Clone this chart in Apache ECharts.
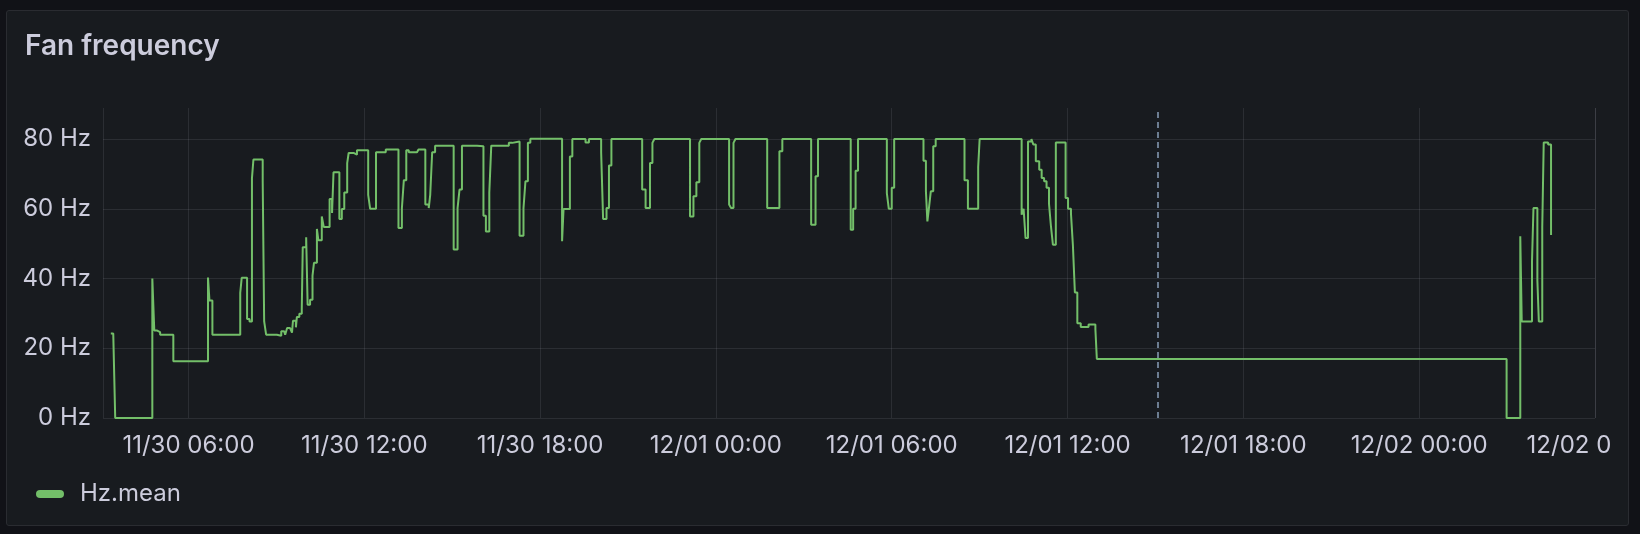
<!DOCTYPE html>
<html><head><meta charset="utf-8">
<script src="https://cdn.jsdelivr.net/npm/echarts@6/dist/echarts.min.js"></script>
<style>
html,body{margin:0;padding:0;background:#111217;width:1640px;height:534px;overflow:hidden;}
#panel{position:absolute;left:6px;top:10px;width:1623px;height:516px;box-sizing:border-box;background:#181b1f;border:1px solid #2a2c31;border-radius:3px;}
#chart{position:absolute;left:0;top:0;width:1611px;height:534px;}
</style></head><body>
<div id="panel"></div><div id="chart"></div>
<script>
const chartTitle = 'Fan frequency';
const seriesName = 'Hz.mean';
const yTicks = [0, 20, 40, 60, 80];
const xRange = ['2023-11-30 03:05', '2023-12-02 06:00'];
const annotationTime = '2023-12-01 15:05';

const times = [
 '2023-11-30 03:21','2023-11-30 03:26','2023-11-30 03:30','2023-11-30 04:46','2023-11-30 04:50','2023-11-30 04:55',
 '2023-11-30 05:02','2023-11-30 05:29','2023-11-30 06:40','2023-11-30 06:43','2023-11-30 06:49','2023-11-30 07:46',
 '2023-11-30 07:49','2023-11-30 08:00','2023-11-30 08:05','2023-11-30 08:10','2023-11-30 08:13','2023-11-30 08:32',
 '2023-11-30 08:35','2023-11-30 08:39','2023-11-30 09:01','2023-11-30 09:10','2023-11-30 09:16','2023-11-30 09:18',
 '2023-11-30 09:22','2023-11-30 09:28','2023-11-30 09:32','2023-11-30 09:34','2023-11-30 09:40','2023-11-30 09:42',
 '2023-11-30 09:47','2023-11-30 09:52','2023-11-30 09:54','2023-11-30 10:01','2023-11-30 10:04','2023-11-30 10:09',
 '2023-11-30 10:14','2023-11-30 10:17','2023-11-30 10:23','2023-11-30 10:26','2023-11-30 10:33','2023-11-30 10:37',
 '2023-11-30 10:49','2023-11-30 10:54','2023-11-30 10:57','2023-11-30 11:09','2023-11-30 11:14','2023-11-30 11:19',
 '2023-11-30 11:25','2023-11-30 11:28','2023-11-30 11:38','2023-11-30 11:45','2023-11-30 12:08','2023-11-30 12:12',
 '2023-11-30 12:24','2023-11-30 12:44','2023-11-30 13:10','2023-11-30 13:17','2023-11-30 13:21','2023-11-30 13:26',
 '2023-11-30 13:31','2023-11-30 13:48','2023-11-30 13:51','2023-11-30 14:05','2023-11-30 14:12','2023-11-30 14:15',
 '2023-11-30 14:19','2023-11-30 14:25','2023-11-30 15:03','2023-11-30 15:11','2023-11-30 15:15','2023-11-30 15:20',
 '2023-11-30 15:51','2023-11-30 16:04','2023-11-30 16:09','2023-11-30 16:16','2023-11-30 16:20','2023-11-30 16:56',
 '2023-11-30 17:03','2023-11-30 17:18','2023-11-30 17:26','2023-11-30 17:30','2023-11-30 17:35','2023-11-30 17:40',
 '2023-11-30 18:45','2023-11-30 18:48','2023-11-30 19:01','2023-11-30 19:06','2023-11-30 19:33','2023-11-30 19:40',
 '2023-11-30 20:05','2023-11-30 20:09','2023-11-30 20:16','2023-11-30 20:21','2023-11-30 20:26','2023-11-30 21:29',
 '2023-11-30 21:36','2023-11-30 21:45','2023-11-30 21:50','2023-11-30 21:54','2023-11-30 23:07','2023-11-30 23:14',
 '2023-11-30 23:20','2023-11-30 23:26','2023-11-30 23:30',
 '2023-12-01 00:27','2023-12-01 00:31','2023-12-01 00:36','2023-12-01 00:40','2023-12-01 01:45','2023-12-01 02:10',
 '2023-12-01 02:16','2023-12-01 03:15','2023-12-01 03:24','2023-12-01 03:29','2023-12-01 04:36','2023-12-01 04:41',
 '2023-12-01 04:46','2023-12-01 04:51','2023-12-01 05:50','2023-12-01 05:54','2023-12-01 06:00','2023-12-01 06:05',
 '2023-12-01 07:05','2023-12-01 07:10','2023-12-01 07:13','2023-12-01 07:16','2023-12-01 07:20','2023-12-01 07:25',
 '2023-12-01 07:30','2023-12-01 08:29','2023-12-01 08:36','2023-12-01 08:57','2023-12-01 09:00','2023-12-01 10:26',
 '2023-12-01 10:30','2023-12-01 10:34','2023-12-01 10:39','2023-12-01 10:46','2023-12-01 10:50','2023-12-01 10:55',
 '2023-12-01 11:02','2023-12-01 11:07','2023-12-01 11:12','2023-12-01 11:17','2023-12-01 11:22','2023-12-01 11:26',
 '2023-12-01 11:30','2023-12-01 11:36','2023-12-01 11:56','2023-12-01 12:01','2023-12-01 12:07','2023-12-01 12:11',
 '2023-12-01 12:15','2023-12-01 12:20','2023-12-01 12:27','2023-12-01 12:43','2023-12-01 12:57','2023-12-01 13:00',
 '2023-12-02 02:59','2023-12-02 03:27','2023-12-02 03:30','2023-12-02 03:51','2023-12-02 03:54','2023-12-02 04:02',
 '2023-12-02 04:05','2023-12-02 04:12','2023-12-02 04:15','2023-12-02 04:24','2023-12-02 04:30'
];

const hz = [
 24.2,23.8,0,40,25.1,24.6,
 23.9,16.3,40.3,33.7,23.9,35.9,
 40.2,28.4,27.7,68.8,74.1,67.9,
 27.7,23.9,23.6,24.9,25.1,23.9,
 25.8,26.3,24.5,27.9,26.0,29.0,
 29.9,31.1,49,51.8,32.5,33.9,
 40.8,44.5,54.2,51,57.8,54.8,
 62.8,58.8,70.5,57.1,59.9,64.7,
 73.1,76,75.5,76.8,64,60,
 76.2,77,54.5,60.2,68.2,76.8,
 76.2,75.8,77,61.2,60.2,64,
 76.2,78.1,48.3,60.2,65.5,78.1,
 77.9,58,53.5,64.7,78.1,78.9,
 79.3,52.3,60.2,67.9,78.9,80.1,
 50.7,59.9,75,80,79,80,
 76.2,57.1,60.2,72.4,80,65.5,
 60.2,73.1,78.9,80,57.8,63.6,
 67.6,78.9,80,
 61.2,60.2,78.9,80,60.2,76.5,
 80,55.4,69.3,80,54,60,
 70.9,80,64.5,60,66,80,
 73.8,65,56.4,60,65,77.9,
 80,68.2,60,72,80,58.3,
 60,51.6,79.3,80,78.4,73.6,
 71.2,68.8,67.9,66,61.5,55,
 49.7,79,63.1,60,58.6,49.4,
 36,27.2,26.1,26.8,25.5,16.9,
 0,52.1,27.7,44.9,60.2,39.5,
 27.7,54.8,79,78.4,52.5
];

const toMs = s => echarts.time.parse(s).getTime();
const seriesData = times.map((t, i) => [toMs(t), hz[i]]);
const pad = n => String(n).padStart(2, '0');

const textColor = '#ccccdc';
const gridColor = 'rgba(204,204,220,0.11)';
const font = 'Inter, "Noto Sans", sans-serif';
const HOUR = 3600 * 1000;

const chart = echarts.init(document.getElementById('chart'), null, {renderer: 'canvas'});
chart.setOption({
  backgroundColor: 'transparent',
  animation: false,
  title: {
    text: chartTitle, left: 20, top: 28,
    textStyle: {color: textColor, fontSize: 28, fontWeight: 600, fontFamily: font}
  },
  legend: {
    data: [seriesName], left: 31, top: 477,
    icon: 'path://M4,0H24A4,4,0,0,1,24,8H4A4,4,0,0,1,4,0Z',
    itemWidth: 28, itemHeight: 8,
    textStyle: {color: textColor, fontSize: 24, fontFamily: font, padding: [0, 0, 0, 11]}
  },
  grid: {left: 103, right: 16, top: 108, bottom: 116, containLabel: false, outerBoundsMode: 'none'},
  xAxis: {
    type: 'time',
    min: toMs(xRange[0]), max: toMs(xRange[1]),
    minInterval: 7 * HOUR, maxInterval: 7 * HOUR,
    axisLine: {show: false}, axisTick: {show: false},
    splitLine: {show: true, lineStyle: {color: gridColor, width: 1}},
    axisLabel: {
      color: textColor, fontSize: 24, fontFamily: font, margin: 16,
      hideOverlap: false, showMinLabel: true, showMaxLabel: true,
      formatter: v => {
        const d = new Date(v);
        if (d.getMinutes() !== 0 || d.getHours() % 6 !== 0) return '';
        return pad(d.getMonth() + 1) + '/' + pad(d.getDate()) + ' ' + pad(d.getHours()) + ':00';
      }
    }
  },
  yAxis: {
    type: 'value', min: 0, max: 88.9, interval: 20,
    axisLine: {show: false}, axisTick: {show: false},
    splitLine: {lineStyle: {color: [gridColor, gridColor, gridColor, gridColor, gridColor, 'rgba(0,0,0,0)'], width: 1}},
    axisLabel: {
      color: textColor, fontSize: 24, fontFamily: font, margin: 12,
      formatter: v => yTicks.includes(v) ? v + ' Hz' : ''
    }
  },
  series: [{
    name: seriesName, type: 'line', step: 'end', data: seriesData,
    showSymbol: false, symbol: 'none',
    color: '#73bf69',
    lineStyle: {color: '#73bf69', width: 2},
    markLine: {
      silent: true, symbol: 'none', label: {show: false},
      lineStyle: {color: '#6c7d91', width: 2, type: [6, 4]},
      data: [{xAxis: toMs(annotationTime)}]
    }
  }]
});
</script>
</body></html>
